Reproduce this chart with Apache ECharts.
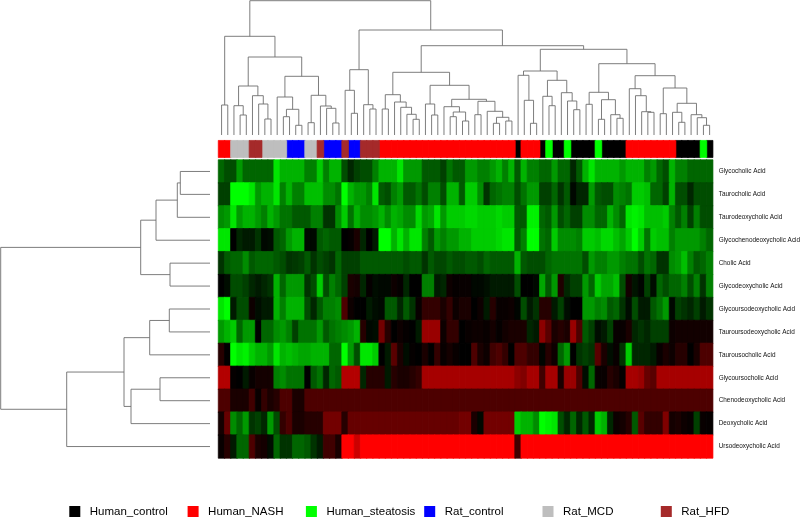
<!DOCTYPE html>
<html><head><meta charset="utf-8">
<style>html,body{margin:0;padding:0;background:#fff}#c{width:800px;height:517px;filter:blur(0.35px)}</style>
<script src="https://cdn.jsdelivr.net/npm/echarts@6/dist/echarts.min.js"></script>
</head><body><div id="c"></div>
<script>
const metabolites=["Glycocholic Acid","Taurocholic Acid","Taurodeoxycholic Acid","Glycochenodeoxycholic Acid","Cholic Acid","Glycodeoxycholic Acid","Glycoursodeoxycholic Acid","Tauroursodeoxycholic Acid","Taurousocholic Acid","Glycoursocholic Acid","Chenodeoxycholic Acid","Deoxycholic Acid","Ursodeoxycholic Acid"];
const groupNames=["Human_control","Human_NASH","Human_steatosis","Rat_control","Rat_MCD","Rat_HFD"];
const groupColors=["#000000","#ff0000","#00ff00","#0000ff","#bebebe","#a52a2a"];
const columnGroups=[1,1,4,4,4,5,5,4,4,4,4,3,3,3,4,4,5,3,3,3,5,3,3,5,5,5,1,1,1,1,1,1,1,1,1,1,1,1,1,1,1,1,1,1,1,1,1,1,0,1,1,1,0,2,0,0,2,0,0,0,0,2,0,0,0,0,1,1,1,1,1,1,1,1,0,0,0,0,2,0];
const row0=[-4,-3,-3,-6,-4,-4,-4,-4,-4,-9,-7,-7,-7,-7,-5,-5,-8,-5,-7,-7,-3,-1.5,-2.5,-3,-3,-5,-7,-7,-7,-9,-6,-6,-6,-3.5,-3.5,-3.5,-2.5,-4.5,-3.5,-3.5,-6,-6,-5,-5,-6,-7,-5,-7,-3.5,-7,-5,-5,-4,-4,-6,-4,-4,-1.5,-3.5,-7,-9,-7,-7,-7,-7,-6,-7,-7,-7,-5,-6,-4,-3,-7,-5,-5,-4,-4,-4,-4];
const row1=[-2.5,-2.5,-10,-10,-10,-9,-6,-7,-7,-9,-5,-7,-5,-5,-7.5,-7.5,-7.5,-5.5,-5.5,-4.5,-10,-7,-6,-6,-5,-9,-3.5,-3,-5,-6,-3.5,-3.5,-4.5,-3,-5,-5,-3,-7,-7,-3.5,-8,-8,-5.5,-2,-4,-4.5,-5,-5,-3,-4.5,-6,-6,-2.5,-2.5,-4,-2,-3.5,-0.3,-1.5,-1.5,-6,-3.5,-3,-3,-5.5,-5,-4.5,-8,-8,-7.5,-4,-4,-2.5,-7,-3,-3,-1.5,-3,-3,-3];
const row2=[-5.5,-6,-9,-6,-7,-7,-6,-5,-7,-6,-4.5,-4.5,-3.5,-3.5,-3.5,-5,-5,-2,-2,-5.5,-8,-4.5,-7,-5.5,-5.5,-6,-7,-5.5,-7,-6.5,-5.5,-5.5,-8.5,-6,-6.5,-9,-6,-8,-8,-8,-8.5,-8.5,-8,-8,-8,-8.5,-8,-8,-3.5,-3.5,-9.5,-9.5,-4,-3.5,-6,-3,-4,-2.5,-2.5,-5.5,-5.5,-4,-4,-7,-5.5,-4,-9,-9.5,-9,-7.5,-7.5,-7.5,-8,-5,-3.5,-5,-2.5,-5,-3,-3];
const row3=[-9,-9,0,-1.5,-1,-1,-2,-0.3,-0.5,-3.5,-4,-6,-7,-7,-0.3,-0.3,-3.5,-4,-3.5,-3.5,0,0.2,1,-1.5,0,-1,-10,-10,-7,-9,-7,-9,-9,-5,-3.5,-6,-5,-6,-6,-7,-7,-8,-8,-8,-8,-8.5,-9,-9,-3.5,-5,-10,-10,-4.5,-4,-8,-5.5,-5.5,-5.5,-5,-8,-8,-7.5,-8.5,-8.5,-7.5,-6.5,-8,-10,-8,-4.5,-8,-7.5,-7.5,-5,-6,-6,-6,-6,-5,-4];
const row4=[-2,-3.5,-4,-4,-5.5,-3.5,-4,-4,-4,-3.5,-3,-2,-2.2,-2.5,-3.5,-2,-3,-2.5,-2,-4,-2.5,-2.5,-2.5,-3.5,-3.5,-3.5,-3.5,-3.5,-3.5,-3.5,-3,-3.5,-3.5,-2,-3.5,-2.8,-2.8,-3.5,-3,-3,-3.5,-3.5,-3,-4,-3.5,-3.5,-3.5,-3.5,-7,-3.5,-3,-3,-3,-4,-4.5,-4.5,-4.5,-4.5,-4.5,-3,-6,-5,-5,-6,-6,-5,-4.5,-4.5,-3,-4.5,-4,-2,-2,-5.5,-6,-7.5,-5,-3.5,-4,-5];
const row5=[0,-0.5,-3,-3,-2.5,-1.5,-1,-1.5,-2,-7,-4,-6,-6,-6,-2,-3,-8,-3,-5,-4,-2.5,1,0.8,-1.5,0.2,-0.5,-0.3,-0.3,0.5,0.2,-1.5,0,0,-5,-5,-1,-1.5,0.5,0.2,0.3,0.3,-0.3,-0.3,-0.6,-1,-1,-1,-1,-3,0,0,-0.3,-6.5,-3.5,-6,1.2,-1.5,-2.5,-2.5,-6,-4,-8,-6.5,-6.5,-7.5,-3,0.8,-0.8,-0.2,-2.5,-0.5,-4,-3,-4,-4,-5,-3,-5,-2,-5];
const row6=[-9,-10,-1,-3,-3,0.5,-0.5,-1,-1,-7,-5,-7,-7,-7,-3,-1.5,-3.5,-5,-5,-5.5,3,0.5,0,0,-1,-0.5,-0.3,-3.5,-3.5,-1.5,-3.5,-2,0.3,2,2,2,1,2,0.5,1,1,0,0.5,-1,1.5,0.3,0.3,0.5,-0.2,-3,-1,-2,1.5,1.5,-1,-2.5,-0.5,0,0,-6,-6,-5,-5.5,-3.5,-4,-2,-0.5,-3,-1,-1,-3.5,-4.5,-6,-0.3,-2.5,-2,-1.5,-2.5,-1,-2];
const row7=[-6,-7,-8,-4,-6,-6,0,-4,-4,-5.5,-6,-5,-2.5,-4.5,-4.5,-4.5,-6,-3.5,-4.5,-5,-5.5,-6,-7,1.5,-0.3,-0.5,4.5,1.5,0,0.5,0.2,0,-1,6,6,6,0.5,2,2,0,0.3,0.5,0.5,0.3,0.8,0.2,0.7,1,1,1,-1.5,-1,5.5,3.5,1,1.5,1,6,3,-3.5,-2.5,-0.5,-1,-2.5,0.3,0.3,1,-1.5,-2,-1.5,-2.5,-2.5,-2.5,0.5,0.7,0.7,0.7,0.7,0.7,0.7];
const row8=[1.5,0,-10,-9,-9.5,-8,-7,-7,-6,-9,-7,-7.5,-7,-6.5,-6.5,-7,-7,-7,-4,-4,-10,-6,-3,-9,-9,-8,0,-1,3.5,1,-0.5,0.2,0,1,0,2,0.3,0.8,0.3,0,0,3,1,0.5,2.5,3,2,0,3,3,2,2,-0.2,1.5,0.5,-4,-6,0,-2,-2.5,-2,3.5,1,-0.5,0.3,-2,-8,-1.5,-1.5,-1.5,-1,0.3,1,0.5,1.5,1.5,0,1,3,3];
const row9=[7,7,0.2,0,-1,0.3,0.8,0.8,0.8,-5,-5.5,-4.5,-4.5,-4.5,0,-3.5,-4.5,-1.5,-4,-3.5,7,7,7,-1.5,1.5,1.5,1.5,-1,1.5,1,1,1.5,2,6.5,6.5,6.5,6.5,6.5,6.5,6.5,6.5,6.5,6.5,6.5,6.5,6.5,6.5,6.5,5.5,5,6.5,6.5,2.5,6.5,6.5,1,6,6,3,-0.5,-4,0.3,0.3,1.5,1,0.2,6.5,6.5,6,4,3.5,6.5,6.5,6.5,6.5,6.5,6.5,6.5,6.5,6.5];
const row10=[3,3,1,1,1,2.5,0.3,2,1,1.5,3,3,1,1,3,3,3,3,3,3,3,3,3,3,3,3,3,3,3,3,3,3,3,3,3,3,3,3,3,3,3,3,3,3,3,3,3,3,3,3,3,3,3,3,3,3,3,3,3,3,3,3,3,3,3,3,3,3,3,3,3,3,3,3,3,3,3,3,3,3];
const row11=[0.8,4,-5.5,-4,-6,-2,-2.5,-1.5,-6,-3,2,3,1,1,1.5,1.5,1.5,4.5,4.5,4.5,1.5,4,4,4,4,4,4,4,4,4,4,4,4,4,4,4,4,4,4,4.5,4.5,1,-0.3,4.5,4.5,4.5,4.5,4.5,-8,-7,-7,-5.5,-10,-9.5,-9,-3,-1.5,-4,-1.5,-3.5,-1.5,-8,-7,-1.5,0.5,0.8,1.5,-3.5,3.5,2,2,2,5,0.8,1,0.5,0.3,-2.5,0.3,0.2];
const row12=[0.3,1.5,-1,-4,-4,3,1,0.8,-0.5,-4,-2,-2,-4,-4,-3.5,-2,-1,2.5,2.5,1,10,10,8,10,10,10,10,10,10,10,10,10,10,10,10,10,10,10,10,10,10,10,10,10,10,10,10,10,2.5,10,10,10,10,10,10,10,10,10,10,10,10,10,10,10,10,10,10,10,10,10,10,10,10,10,10,10,10,10,10,10];
const rows=[row0,row1,row2,row3,row4,row5,row6,row7,row8,row9,row10,row11,row12];
// trees: [mergeHeight, left, right]; a bare number is a leaf index
const columnTree=[134.3,
 [98.7,
  [30,0,1],
  [78,
   [49,[29.3,2,[20,3,4]],[39.3,5,[31,6,[16,7,8]]]],
   [58.7,[38,9,[25.7,[18.3,10,11],[9.7,12,13]]],[39.7,[12.3,14,15],[29,16,[26.7,17,[12,18,19]]]]]]],
 [105,
  [65.3,[44.7,20,[21.7,21,22]],[30.3,23,[26,24,25]]],
  [89.3,
   [62.7,
    [40.3,[26,26,27],[33,28,[27.7,29,[20.7,30,[15.7,31,32]]]]],
    [49.7,[31,33,[20,34,35]],[35.7,[28.3,36,[23,[18.3,37,38],[14,39,40]]],[33.7,[20.3,41,42],[23.7,43,[17.7,[11.7,44,45],[14,46,47]]]]]]],
   [85.7,
    [64,[59.7,48,[34.7,49,[11.7,50,51]]],[54.7,[38.7,52,[29.3,53,54]],[42.3,55,[34,56,[25.3,57,58]]]]],
    [71.3,
     [42.7,[30.7,59,60],[35.3,[15.7,61,62],[20.3,63,[16.7,64,65]]]],
     [59.3,
      [46.3,66,[39.3,67,[23.3,68,[22.7,69,70]]]],
      [47,[21.3,71,72],[31.7,[22.7,73,[12.7,74,75]],[20.3,76,[17.3,77,[9.7,78,79]]]]]]]]]]];
const rowTree=[209.3,
 [69.3,[54,[32.7,[29.7,0,1],2],3],[40,4,5]],
 [143.3,[86,[60.3,[40.7,6,7],8],[79,[50,9,10],11]],12]];

const L=218.5,W=494.2;
function collect(t,out){ if(typeof t==='number') return [t+0.5,0];
  const a=collect(t[1],out),b=collect(t[2],out); out.push([a[0],a[1],t[0],b[0],b[1]]); return [(a[0]+b[0])/2,t[0]]; }
const colSegs=[];collect(columnTree,colSegs);
const rowSegs=[];collect(rowTree,rowSegs);
const lineStyle={stroke:'#6e6e6e',fill:null,lineWidth:0.9};
// same scale as the visualMap: -10 green, 0 black, +10 red; the border closes hairline seams between cells
const seamColor=v=>{const c=Math.round(Math.min(Math.abs(v)/10,1)*255);return v<0?`rgb(0,${c},0)`:`rgb(${c},0,0)`;};
const seam={borderWidth:0.7};
const heat=[];rows.forEach((r,y)=>r.forEach((v,x)=>heat.push({value:[x,y,v],itemStyle:{...seam,borderColor:seamColor(v)}})));
const cols=columnGroups.map((_,i)=>String(i));
const series=[{type:'heatmap',name:'values',xAxisIndex:0,yAxisIndex:0,data:heat,progressive:0,animation:false}];
groupNames.forEach((n,g)=>{
 const d=[];columnGroups.forEach((k,x)=>{if(k===g)d.push([x,0,g]);});
 series.push({type:'heatmap',name:n,xAxisIndex:1,yAxisIndex:1,data:d,itemStyle:{color:groupColors[g],borderColor:groupColors[g],borderWidth:0.7},animation:false});
});
series.push({type:'custom',name:'columnTree',xAxisIndex:2,yAxisIndex:2,data:colSegs,clip:false,silent:true,
 renderItem:(p,api)=>{const a=api.coord([api.value(0),api.value(1)]),b=api.coord([api.value(0),api.value(2)]),c=api.coord([api.value(3),api.value(2)]),d=api.coord([api.value(3),api.value(4)]);
  return {type:'polyline',shape:{points:[a,b,c,d]},style:lineStyle};}});
series.push({type:'custom',name:'rowTree',xAxisIndex:3,yAxisIndex:3,data:rowSegs,clip:false,silent:true,
 renderItem:(p,api)=>{const a=api.coord([api.value(1),api.value(0)]),b=api.coord([api.value(2),api.value(0)]),c=api.coord([api.value(2),api.value(3)]),d=api.coord([api.value(4),api.value(3)]);
  return {type:'polyline',shape:{points:[a,b,c,d]},style:lineStyle};}});
const hidden={show:false};
const gridBase={outerBoundsMode:'none',containLabel:false};
const option={animation:false,backgroundColor:'#fff',
 grid:[{...gridBase,left:L,top:160,width:W,height:298},{...gridBase,left:L,top:140.7,width:W,height:16.6},{...gridBase,left:L,top:0.7,width:W,height:134.3},{...gridBase,left:0.7,top:160,width:209.3,height:298}],
 xAxis:[{type:'category',gridIndex:0,data:cols,...hidden},{type:'category',gridIndex:1,data:cols,...hidden},{type:'value',gridIndex:2,min:0,max:80,...hidden},{type:'value',gridIndex:3,min:0,max:209.3,inverse:true,...hidden}],
 yAxis:[{type:'category',gridIndex:0,data:metabolites,inverse:true,position:'right',axisLine:{show:false},axisTick:{show:false},splitLine:{show:false},axisLabel:{show:true,interval:0,margin:6,fontSize:6.4,color:'#111',fontFamily:'Liberation Sans'}},
  {type:'category',gridIndex:1,data:['a'],...hidden},{type:'value',gridIndex:2,min:0,max:134.3,...hidden},{type:'value',gridIndex:3,min:0,max:13,inverse:true,...hidden}],
 visualMap:[{type:'continuous',show:false,seriesIndex:0,dimension:2,min:-10,max:10,inRange:{color:['#00ff00','#000000','#ff0000']}},
  {type:'piecewise',show:false,seriesIndex:[1,2,3,4,5,6],dimension:2,pieces:groupColors.map((c,i)=>({value:i,color:c}))}],
 legend:groupNames.map((n,i)=>({data:[{name:n,icon:'rect',itemStyle:{color:groupColors[i]}}],left:69.3+118.3*i,top:505.5,itemWidth:9,itemHeight:9,itemGap:0,selectedMode:false,padding:0,textStyle:{fontSize:11.5,color:'#000',fontFamily:'Liberation Sans',padding:[0,0,0,5.5]}})),
 series};
echarts.init(document.getElementById('c'),null,{renderer:'canvas'}).setOption(option);
</script></body></html>
